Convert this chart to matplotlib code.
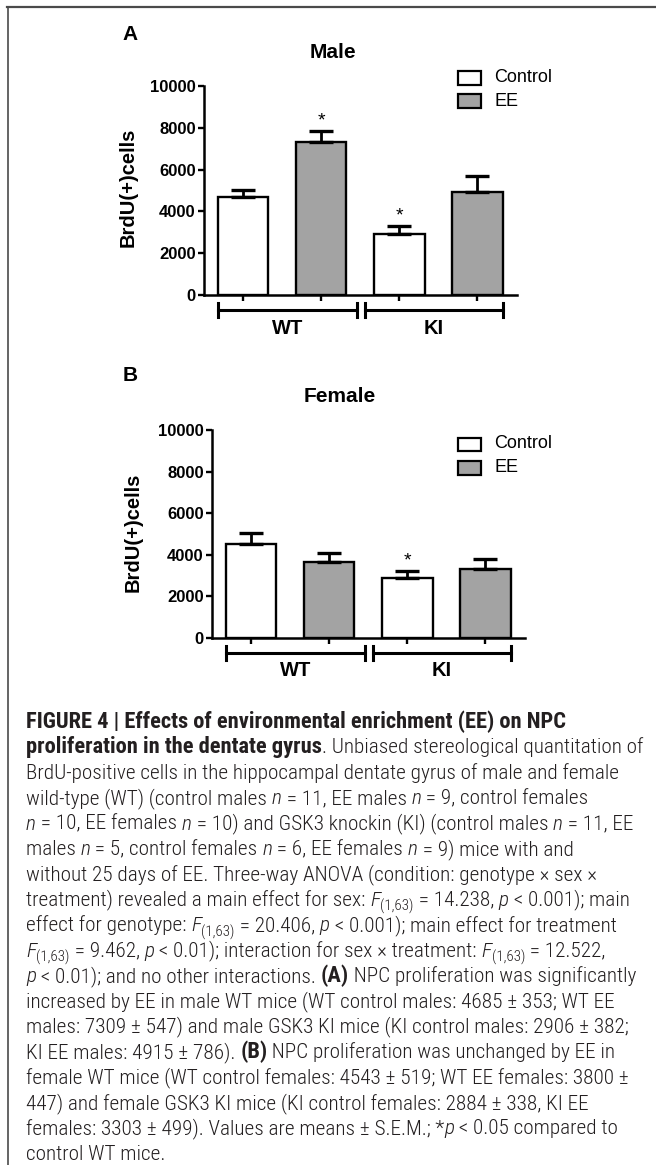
"""
Figure 4 re-drawn: NPC proliferation (BrdU+ cells) in male / female WT and KI mice,
with and without environmental enrichment, plus the figure caption.
"""

import matplotlib
matplotlib.use('Agg')
import matplotlib.pyplot as plt
from matplotlib import font_manager as fm
from matplotlib.lines import Line2D
from matplotlib.patches import Rectangle
from matplotlib.transforms import IdentityTransform, blended_transform_factory

# ---- data -------------------------------------------------------------
groups = ['WT', 'KI']
treatments = ['Control', 'EE']
bar_treatment = ['Control', 'EE', 'Control', 'EE']

male_means = [4685, 7309, 2906, 4915]
male_sem = [353, 547, 382, 786]
male_sig = [False, True, True, False]

female_means = [4543, 3650, 2884, 3303]
female_sem = [519, 447, 338, 499]
female_sig = [False, False, True, False]

y_ticks = [0, 2000, 4000, 6000, 8000, 10000]

W, H = 656, 1165
FILL = {'Control': 'white', 'EE': '#a3a3a3'}


def pick_font(names):
    for name in names:
        try:
            fm.findfont(fm.FontProperties(family=name), fallback_to_default=False)
            return name
        except ValueError:
            pass
    return 'DejaVu Sans'


CHART_FONT = pick_font(['Liberation Sans', 'Arial', 'DejaVu Sans'])
CAP_FONT = pick_font(['Liberation Sans Narrow', 'Roboto Condensed', 'Liberation Sans'])

fig = plt.figure(figsize=(W / 100, H / 100), dpi=100)
fig.patch.set_facecolor('white')


def fx(x):
    return x / W


def fy(y):
    return 1 - y / H


# outer frame (only top and left edges are visible in the crop)
fig.add_artist(Line2D([fx(7), fx(W)], [fy(7), fy(7)], color='#4a4a4a', lw=1.6))
fig.add_artist(Line2D([fx(7.5), fx(7.5)], [fy(7), fy(H)], color='#4a4a4a', lw=1.2))


def bar_panel(left, top, bottom, means, sems, sig, letter, title, title_xy, ylabel_xy, label_off):
    width = 313
    ax = fig.add_axes([fx(left), fy(bottom), width / W, (bottom - top) / H])
    xs = list(range(len(means)))
    colors = [FILL[t] for t in bar_treatment]
    ax.bar(xs, means, width=0.65, color=colors, edgecolor='black', linewidth=1.7, zorder=2)
    ax.errorbar(xs, means, yerr=[[0] * len(sems), sems], fmt='none', ecolor='black',
                elinewidth=2.0, capsize=8.5, capthick=2.4, zorder=3)
    for x, m, s, star in zip(xs, means, sems, sig):
        if star:
            ax.annotate('*', (x, m + s), xytext=(0, 1), textcoords='offset points',
                        ha='center', va='bottom', fontsize=14, family=CHART_FONT)

    ax.set_xlim(-0.5, 3.51)
    ax.set_ylim(0, 10000)
    ax.set_yticks(y_ticks)
    ax.set_yticklabels([str(t) for t in y_ticks], fontsize=12, fontweight='bold', family=CHART_FONT)
    ax.set_xticks(xs)
    ax.set_xticklabels([])
    ax.tick_params(axis='both', direction='out', length=4.5, width=1.7, pad=1.5)
    for side in ['top', 'right']:
        ax.spines[side].set_visible(False)
    for side in ['left', 'bottom']:
        ax.spines[side].set_linewidth(1.8)

    # genotype brackets under the axis
    trans = blended_transform_factory(ax.transData, ax.transAxes)
    h = bottom - top
    yb = -15 / h
    cap = 7 / h
    for (x0, x1), name in zip([(-0.32, 1.46), (1.56, 3.33)], groups):
        ax.plot([x0, x1], [yb, yb], color='black', lw=2.2, transform=trans, clip_on=False)
        for xe in (x0, x1):
            ax.plot([xe, xe], [yb - cap, yb + cap], color='black', lw=2.2,
                    transform=trans, clip_on=False)
        ax.text((x0 + x1) / 2, -label_off / h, name, transform=trans, ha='center', va='center',
                fontsize=14.5, fontweight='bold', family=CHART_FONT)

    fig.text(fx(130), fy(letter[1]), letter[0], ha='center', va='center',
             fontsize=15, fontweight='bold', family=CHART_FONT)
    fig.text(fx(title_xy[0]), fy(title_xy[1]), title, ha='center', va='center',
             fontsize=15, fontweight='bold', family=CHART_FONT)
    fig.text(fx(ylabel_xy[0]), fy(ylabel_xy[1]), 'BrdU(+)cells', rotation=90, ha='center',
             va='center', fontsize=14.5, fontweight='bold', family=CHART_FONT)

    # legend
    for yc, name in zip(letter[2], treatments):
        fig.add_artist(Rectangle((fx(458), fy(yc + 6.5)), 23 / W, 13 / H, facecolor=FILL[name],
                                 edgecolor='black', linewidth=1.6))
        fig.text(fx(494), fy(yc), name, ha='left', va='center', fontsize=13, family=CHART_FONT)
    return ax


bar_panel(204, 86, 295, male_means, male_sem, male_sig, ('A', 35, (78, 101)),
          'Male', (333, 53), (128, 187), 34)
bar_panel(212, 430, 638, female_means, female_sem, female_sig, ('B', 375, (444, 468)),
          'Female', (340, 397), (133, 532), 32)

# ---- caption ------------------------------------------------------------
F = [('F', 'i'), ('(1,63)', 's')]
n = ('n', 'i')
p = ('p', 'i')
caption = [
    [('FIGURE 4 | Effects of environmental enrichment (EE) on NPC', 'b')],
    [('proliferation in the dentate gyrus', 'b'), ('. Unbiased stereological quantitation of', 'r')],
    [('BrdU-positive cells in the hippocampal dentate gyrus of male and female', 'r')],
    [('wild-type (WT) (control males ', 'r'), n, (' = 11, EE males ', 'r'), n,
     (' = 9, control females', 'r')],
    [n, (' = 10, EE females ', 'r'), n, (' = 10) and GSK3 knockin (KI) (control males ', 'r'), n,
     (' = 11, EE', 'r')],
    [('males ', 'r'), n, (' = 5, control females ', 'r'), n, (' = 6, EE females ', 'r'), n,
     (' = 9) mice with and', 'r')],
    [('without 25 days of EE. Three-way ANOVA (condition: genotype \u00d7 sex \u00d7', 'r')],
    [('treatment) revealed a main effect for sex: ', 'r')] + F + [(' = 14.238, ', 'r'), p,
                                                              (' < 0.001); main', 'r')],
    [('effect for genotype: ', 'r')] + F + [(' = 20.406, ', 'r'), p,
                                            (' < 0.001); main effect for treatment', 'r')],
    F + [(' = 9.462, ', 'r'), p, (' < 0.01); interaction for sex \u00d7 treatment: ', 'r')] + F
    + [(' = 12.522,', 'r')],
    [p, (' < 0.01); and no other interactions. ', 'r'), ('(A)', 'b'),
     (' NPC proliferation was significantly', 'r')],
    [('increased by EE in male WT mice (WT control males: 4685 \u00b1 353; WT EE', 'r')],
    [('males: 7309 \u00b1 547) and male GSK3 KI mice (KI control males: 2906 \u00b1 382;', 'r')],
    [('KI EE males: 4915 \u00b1 786). ', 'r'), ('(B)', 'b'),
     (' NPC proliferation was unchanged by EE in', 'r')],
    [('female WT mice (WT control females: 4543 \u00b1 519; WT EE females: 3800 \u00b1', 'r')],
    [('447) and female GSK3 KI mice (KI control females: 2884 \u00b1 338, KI EE', 'r')],
    [('females: 3303 \u00b1 499). Values are means \u00b1 S.E.M.; *', 'r'), p,
     (' < 0.05 compared to', 'r')],
    [('control WT mice.', 'r')],
]

renderer = fig.canvas.get_renderer()
CAP_COLOR = '#231f20'
CAP_X = 26


def seg_props(style, sizes):
    if style == 'b':
        return fm.FontProperties(family=CAP_FONT, weight='bold', size=sizes['b'])
    if style == 'i':
        return fm.FontProperties(family=CAP_FONT, weight='light', style='italic', size=sizes['r'])
    if style == 's':
        return fm.FontProperties(family=CAP_FONT, weight='light', size=sizes['r'] * 0.7)
    return fm.FontProperties(family=CAP_FONT, weight='light', size=sizes['r'])


def seg_width(text, prop):
    w_all = renderer.get_text_width_height_descent('|' + text + '|', prop, ismath=False)[0]
    w_bar = renderer.get_text_width_height_descent('||', prop, ismath=False)[0]
    return w_all - w_bar


def line_width(segs, sizes):
    return sum(seg_width(t, seg_props(s, sizes)) for t, s in segs)


# fit caption sizes to the reference line lengths (bold line 1 ~543 px, plain line 3 ~595 px)
base = {'r': 14.0, 'b': 14.0}
sizes = {'r': 14.0 * 595 / line_width(caption[2], base),
         'b': 14.0 * 543 / line_width(caption[0], base)}

for i, segs in enumerate(caption):
    y_base = 728 + i * 25.4
    x = CAP_X
    for text, style in segs:
        prop = seg_props(style, sizes)
        dy = 5 if style == 's' else 0
        fig.text(x, H - (y_base + dy), text, transform=IdentityTransform(), fontproperties=prop,
                 color=CAP_COLOR, ha='left', va='baseline')
        x += seg_width(text, prop)

fig.savefig('out.png', dpi=100, facecolor='white')
